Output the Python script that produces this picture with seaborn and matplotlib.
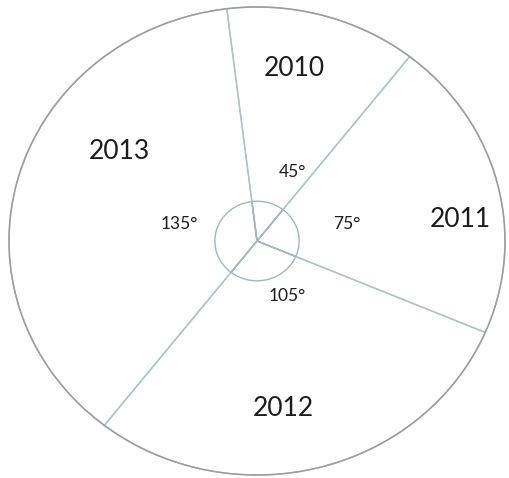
import matplotlib
matplotlib.use("Agg")
import matplotlib.pyplot as plt
import seaborn as sns
from matplotlib.patches import Ellipse

# Share of the circle for each year, in degrees
years = ["2010", "2011", "2012", "2013"]
degrees = [45, 75, 105, 135]
degree_labels = [f"{d}°" for d in degrees]

sns.set_theme(style="white")
plt.rcParams["font.family"] = ["Lato", "DejaVu Sans"]

W, H = 509, 478
fig = plt.figure(figsize=(W / 100, H / 100), dpi=100)
fig.patch.set_facecolor("white")

# Pixel bounds of the outer circle
left, right, top, bottom = 9, 505, 7, 475
ax = fig.add_axes([left / W, 1 - bottom / H, (right - left) / W, (bottom - top) / H])

# Main pie: outline-only wedges
wedges, _ = ax.pie(
    degrees, startangle=97, counterclock=False, radius=1.0,
    wedgeprops=dict(facecolor="none", edgecolor="#afc2c9", linewidth=1.0),
)
# Small angle-marker circle around the centre
inner, _ = ax.pie(
    degrees, startangle=97, counterclock=False, radius=0.17,
    wedgeprops=dict(facecolor="none", edgecolor="#a6b6bd", linewidth=1.0),
)
for w in list(wedges) + list(inner):
    w.set_clip_on(False)

# Outer rim, slightly darker
rim = Ellipse((0, 0), 2, 2, fill=False, edgecolor="#9a9d9e", linewidth=1.1, clip_on=False)
ax.add_patch(rim)

ax.set_aspect("auto")
ax.set_xlim(-1, 1)
ax.set_ylim(-1, 1)
ax.axis("off")

# Label placement (axes fraction)
year_pos = [(0.575, 0.868), (0.909, 0.547), (0.554, 0.143), (0.222, 0.692)]
deg_pos = [(0.571, 0.647), (0.681, 0.536), (0.560, 0.382), (0.343, 0.536)]

for name, (x, y) in zip(years, year_pos):
    ax.text(x, y, name, transform=ax.transAxes, ha="center", va="center",
            fontsize=19, color="#1c1c1c")
for lab, (x, y) in zip(degree_labels, deg_pos):
    ax.text(x, y, lab, transform=ax.transAxes, ha="center", va="center",
            fontsize=12.5, color="#1c1c1c")

fig.savefig("out.png", dpi=100, facecolor="white")
